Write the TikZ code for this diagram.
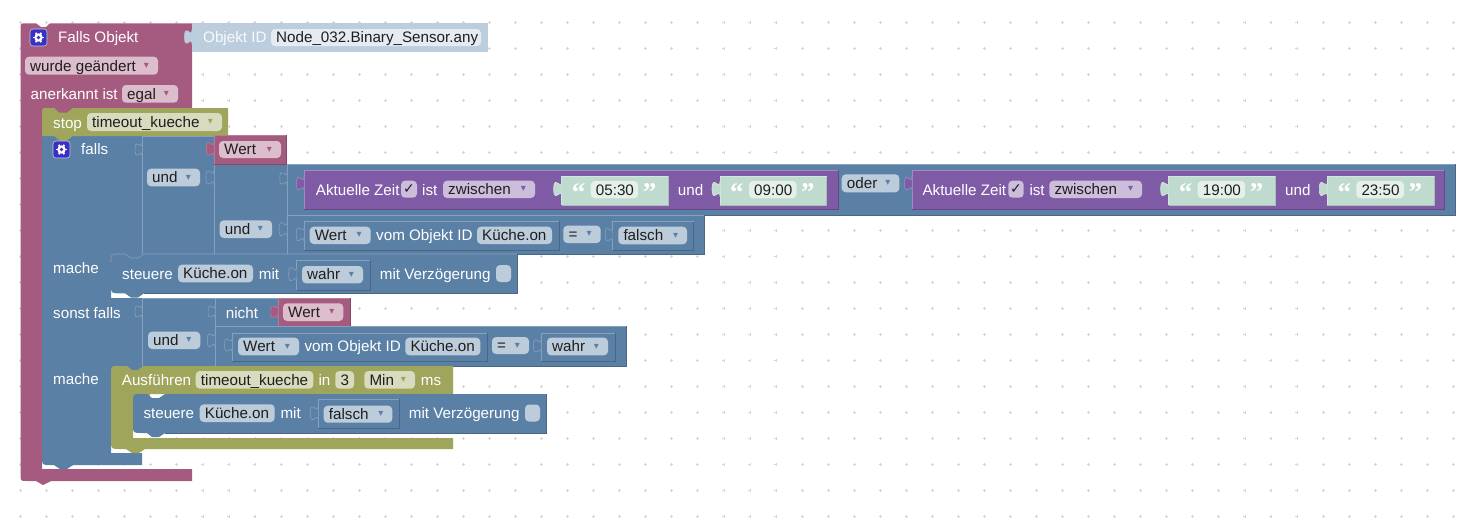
\documentclass[tikz,border=0pt]{standalone}
\usepackage{fontspec}
\setmainfont{Liberation Sans}
\newfontfamily\dejafont{DejaVu Sans}
\newfontfamily\quotefont{Liberation Serif}
\definecolor{pinkb}{HTML}{A55B80}\definecolor{pinkl}{HTML}{B77C99}\definecolor{pinkd}{HTML}{844966}\definecolor{pinkf}{HTML}{DBBDCC}
\definecolor{blueb}{HTML}{5B80A5}\definecolor{bluel}{HTML}{86A1BC}\definecolor{blued}{HTML}{496684}\definecolor{bluef}{HTML}{BDCCDB}
\definecolor{oliveb}{HTML}{9FA55B}\definecolor{olivel}{HTML}{B5B97C}\definecolor{olived}{HTML}{7F8449}\definecolor{olivef}{HTML}{D8DBBD}
\definecolor{purpb}{HTML}{805BA5}\definecolor{purpl}{HTML}{A08CC0}\definecolor{purpd}{HTML}{664984}\definecolor{purpf}{HTML}{CCBDDB}
\definecolor{tealb}{HTML}{BFDACF}\definecolor{teall}{HTML}{D3E6DE}\definecolor{tealf}{HTML}{E5F0EB}
\definecolor{palb}{HTML}{BCCDDE}\definecolor{palf}{HTML}{E4EBF2}\definecolor{gearb}{HTML}{3A30C4}\definecolor{ink}{HTML}{1E1E1E}\definecolor{dotc}{HTML}{D4D4D4}
\tikzset{
 btext/.style={anchor=base west,inner sep=0pt,text=white,font=\fontsize{15.2}{18}\selectfont},
 ftext/.style={anchor=base west,inner sep=0pt,text=ink,font=\fontsize{15.2}{18}\selectfont},
 arrowmark/.style={anchor=center,inner sep=0pt,font=\dejafont\fontsize{10}{12}\selectfont},
 quotemark/.style={anchor=base west,inner sep=0pt,text=white,font=\quotefont\bfseries\fontsize{27}{28}\selectfont},
 checkmark/.style={anchor=center,inner sep=0pt,text=ink,font=\dejafont\fontsize{14}{15}\selectfont},
 fieldbox/.style={rounded corners=4pt},
 edge/.style={line width=.6pt}
}
% x1 y1 x2 y2 fill light dark
\newcommand\blk[7]{\fill[#5] (#1,#2) rectangle (#3,#4);
 \draw[edge,#7] (#3,#2) -- (#3,#4) -- (#1,#4);
 \draw[edge,#6] (#1,#4) -- (#1,#2) -- (#3,#2);}
\newcommand\blue[4]{\blk{#1}{#2}{#3}{#4}{blueb}{bluel}{blued}}
% x ytop height fill stroke
\newcommand\tabp[5]{\path[fill=#4,draw=#5,edge,shift={(#1,#2)},scale=#3/15] (0,0) .. controls (0,10) and (-8,-8) .. (-8,7.5) .. controls (-8,23) and (0,5) .. (0,15);}
% name x1 y1 x2 y2 fill text
\newcommand\fld[7]{\fill[fieldbox,#6] (#2,#3) rectangle (#4,#5);
 \node[ftext] (#1) at ({#2+5},{(#3+#5)/2+5.3}) {#7};}
% name x1 y1 x2 y2 fill arrow text
\newcommand\dfld[8]{\fld{#1}{#2}{#3}{#4}{#5}{#6}{#8}
 \node[arrowmark,text=#7] (#1a) at ({#4-11.5},{(#3+#5)/2}) {▾};}
% name x ycentre text
\newcommand\wt[4]{\node[btext] (#1) at (#2,{#3+5.3}) {#4};}
% name x1 y1 x2 y2 fill
\newcommand\chk[6]{\fill[fieldbox,#6] (#2,#3) rectangle (#4,#5);
 \node[checkmark] (#1) at ({(#2+#4)/2},{(#3+#5)/2}) {✓};}
% x1 y1
\newcommand\gearicon[2]{\draw[rounded corners=3pt,fill=gearb,draw=bluef,line width=.6pt] (#1,#2) rectangle ({#1+17},{#2+17});
 \foreach \a in {0,60,...,300}{\draw[white,line width=1.8pt] ({#1+8.5+3*cos(\a)},{#2+8.5+3*sin(\a)}) -- ({#1+8.5+5.4*cos(\a)},{#2+8.5+5.4*sin(\a)});}
 \fill[white] ({#1+8.5},{#2+8.5}) circle (4.2);
 \fill[gearb] ({#1+8.5},{#2+8.5}) circle (1.9);}
% name x text
\newcommand\tealblk[3]{\blk{#2}{176}{#2+106.5}{205}{tealb}{teall}{tealb!70!gray}
 \tabp{#2}{181.5}{15}{tealb}{teall}
 \node[quotemark] (#1o) at ({#2+10},201.5) {“};
 \fill[fieldbox,tealf] ({#2+29},181) rectangle ({#2+76.5},198.3);
 \node[ftext] (#1) at ({#2+34},195) {#3};
 \node[quotemark] (#1c) at ({#2+81},201.5) {”};}
\begin{document}
\begin{tikzpicture}[x=1pt,y=-1pt]
\useasboundingbox (0,0) rectangle (1474,522);
\fill[white] (0,0) rectangle (1474,522);
% grid
\draw[dotc,line width=.7pt] foreach \i in {0,...,55}{ foreach \j in {0,...,19}{
 ({20.5+26.05*\i-1.5},{22+26*\j}) -- ++(3,0) ({20.5+26.05*\i},{22+26*\j-1.5}) -- ++(0,3)}};
% ---- hat block
\fill[pinkb] (20.5,29) .. controls (20.5,23.3) .. (26,23.3) -- (36,23.3) -- (41,27) -- (46,27) -- (50,23.3) -- (192,23.3) -- (192,108) -- (42,108) -- (42,469) -- (192,469) -- (192,481) -- (51,481) -- (43,485) -- (36,481) -- (27,481) .. controls (20.5,481) .. (20.5,474) -- cycle;
\fill[pinkb] (42,105) rectangle (80,114);
\blk{192}{23.3}{487}{51.5}{palb}{palb}{palb}
\tabp{192}{30}{14}{palb}{palb}
\gearicon{30}{29}
\wt{t1}{58}{37.5}{Falls Objekt}
\node[btext,text=white!90!palb] (t2) at (203,42.8) {Objekt ID};
\fld{f1}{271}{29}{481}{46}{palf}{Node\_032.Binary\_Sensor.any}
\dfld{f2}{25}{56.7}{158}{74.7}{pinkf}{pinkb}{wurde geändert}
\wt{t3}{30.5}{94}{anerkannt ist}
\dfld{f3}{122}{85}{178}{102.7}{pinkf}{pinkb}{egal}
% ---- falls block body
\fill[blueb] (42,136) -- (142,136) -- (142,254) -- (111,254) -- (111,298) -- (142,298) -- (142,366) -- (111,366) -- (111,453) -- (142,453) -- (142,465) -- (73,465) -- (67,469) -- (60,469) -- (54,465) -- (50,465) .. controls (42,465) .. (42,457) -- cycle;
\fill[blueb] (111,254) rectangle (145,260);
\fill[blueb] (111,366) rectangle (145,372);
% ---- stop
\fill[oliveb] (42,113) .. controls (42,108) .. (47,108) -- (54,108) -- (59,112.5) -- (67,112.5) -- (73,108) -- (228,108) -- (228,136) -- (73,136) -- (67,140.5) -- (60,140.5) -- (54,136) -- (42,136) -- cycle;
\wt{t4}{53}{122.7}{stop}
\dfld{f4}{87}{113}{222}{131}{olivef}{oliveb}{timeout\_kueche}
\gearicon{53}{141}
\wt{t5}{81}{149}{falls}
\wt{t6}{53}{267.7}{mache}
\wt{t7}{53}{312.7}{sonst falls}
\wt{t8}{53}{378.7}{mache}
% ---- first condition
\blue{142}{136}{214}{254}
\tabp{142}{143}{13}{blueb}{bluel}
\dfld{f5}{147}{168.7}{200}{186.3}{bluef}{blueb}{und}
\blue{214}{164}{287}{254}
\tabp{214}{170}{15}{blueb}{bluel}
\blk{214}{135}{286}{164}{pinkb}{pinkl}{pinkd}
\tabp{214}{141.7}{14.5}{pinkb}{pinkl}
\dfld{f6}{219}{141}{281}{158}{pinkf}{pinkb}{Wert}
\dfld{f7}{219.7}{220.3}{272}{238}{bluef}{blueb}{und}
\blue{287}{164}{1455}{215}
\tabp{287}{171.7}{13.5}{blueb}{bluel}
\blue{287}{215}{704}{254}
\tabp{287}{221.7}{15}{blueb}{bluel}
% purple 1
\blk{304}{170}{838}{209}{purpb}{purpl}{purpd}
\tabp{304}{176.5}{14}{purpb}{purpl}
\wt{t9}{315.7}{190}{Aktuelle Zeit}
\chk{c1}{401}{180.7}{417}{197.7}{purpf}
\wt{t10}{422}{190}{ist}
\dfld{f8}{443}{180.7}{535}{198}{purpf}{purpb}{zwischen}
\tealblk{q1}{561.7}{05:30}
\wt{t11}{677.7}{190}{und}
\tealblk{q2}{720}{09:00}
\dfld{f9}{841.7}{174.3}{899.3}{192.3}{bluef}{blueb}{oder}
% purple 2
\blk{912}{170}{1444}{209}{purpb}{purpl}{purpd}
\tabp{912}{176.5}{14}{purpb}{purpl}
\wt{t12}{922.3}{190}{Aktuelle Zeit}
\chk{c2}{1008.3}{180.7}{1023.7}{197.7}{purpf}
\wt{t13}{1029.3}{190}{ist}
\dfld{f10}{1049.3}{180.7}{1142}{198}{purpf}{purpb}{zwischen}
\tealblk{q3}{1168.7}{19:00}
\wt{t14}{1285}{190}{und}
\tealblk{q4}{1327.3}{23:50}
% second row
\blue{304}{221}{559}{250}
\tabp{304}{227}{14.5}{blueb}{bluel}
\dfld{f11}{309.7}{226.7}{370.7}{244}{bluef}{blueb}{Wert}
\wt{t15}{376}{235.5}{vom Objekt ID}
\fld{f12}{477}{226.7}{552}{244}{bluef}{Küche.on}
\dfld{f13}{563.3}{225.7}{600.7}{243}{bluef}{blueb}{=}
\blue{612.7}{221}{693.7}{250}
\tabp{612.7}{227.7}{14}{blueb}{bluel}
\dfld{f14}{618.3}{226.7}{687}{244.3}{bluef}{blueb}{falsch}
% ---- steuere 1
\fill[blueb] (111,262) .. controls (111,254) .. (119,254) -- (125,254) -- (131,258) -- (138,258) -- (144,254) -- (517,254) -- (517,293.3) -- (144,293.3) -- (138,297.5) -- (131,297.5) -- (125,293.3) -- (120,293.3) .. controls (111,293.3) .. (111,285) -- cycle;
\draw[edge,bluel] (111,262) .. controls (111,254) .. (119,254) -- (125,254) -- (131,258) -- (138,258) -- (144,254) -- (517,254);
\draw[edge,blued] (517,254) -- (517,293.3) -- (144,293.3);
\wt{t16}{122}{274}{steuere}
\fld{f15}{178}{264.7}{253}{282.3}{bluef}{Küche.on}
\wt{t17}{258.7}{274}{mit}
\blue{296.7}{260}{370}{290}
\tabp{296.7}{266.7}{15}{blueb}{bluel}
\dfld{f16}{302}{266}{363}{283.3}{bluef}{blueb}{wahr}
\wt{t18}{379.7}{274}{mit Verzögerung}
\fill[fieldbox,bluef] (496,265) rectangle (511,282);
% ---- sonst falls condition
\blue{142}{298}{215}{366}
\tabp{142}{305}{13}{blueb}{bluel}
\dfld{f17}{148}{331.7}{200.3}{349}{bluef}{blueb}{und}
\blue{215}{298}{278}{326}
\tabp{215}{305}{13}{blueb}{bluel}
\wt{t19}{225.7}{312.7}{nicht}
\blk{278}{298}{350}{326}{pinkb}{pinkl}{pinkd}
\tabp{278}{305}{13.5}{pinkb}{pinkl}
\dfld{f18}{283}{303.3}{343.3}{321}{pinkf}{pinkb}{Wert}
\blue{215}{326}{626}{366}
\tabp{215}{333}{14.5}{blueb}{bluel}
\blue{232}{333}{487}{361}
\tabp{232}{338}{14}{blueb}{bluel}
\dfld{f19}{238}{337.7}{299}{355.3}{bluef}{blueb}{Wert}
\wt{t20}{304.3}{346.5}{vom Objekt ID}
\fld{f20}{405.3}{337.7}{480.3}{355.3}{bluef}{Küche.on}
\dfld{f21}{492}{337}{529}{354}{bluef}{blueb}{=}
\blue{541}{333}{615}{361}
\tabp{541}{339}{14}{blueb}{bluel}
\dfld{f22}{547}{337.7}{608}{355.3}{bluef}{blueb}{wahr}
% ---- Ausfuehren
\fill[oliveb] (111,374) .. controls (111,366) .. (119,366) -- (127,366) -- (132,370) -- (138,370) -- (143,366) -- (453,366) -- (453,394) -- (133,394) -- (133,438) -- (453,438) -- (453,449) -- (145,449) -- (139,453) -- (132,453) -- (126,449) -- (120,449) .. controls (111,449) .. (111,441) -- cycle;
\fill[oliveb] (133,394) rectangle (150,402);
\wt{t21}{121.7}{380}{Ausführen}
\fld{f23}{195.7}{371}{313.3}{388.7}{olivef}{timeout\_kueche}
\wt{t22}{318.3}{380}{in}
\fld{f24}{335.3}{371}{354}{388.7}{olivef}{3}
\dfld{f25}{364.3}{371}{415}{388.7}{olivef}{oliveb}{Min}
\wt{t23}{420.7}{380}{ms}
% ---- steuere 2
\fill[blueb] (133,402) .. controls (133,394) .. (141,394) -- (147,394) -- (152,398) -- (159,398) -- (165,394) -- (546,394) -- (546,433) -- (165,433) -- (159,437) -- (152,437) -- (147,433) -- (142,433) .. controls (133,433) .. (133,425) -- cycle;
\draw[edge,blued] (546,394) -- (546,433) -- (165,433);
\wt{t24}{143.3}{413.3}{steuere}
\fld{f26}{199.7}{404.3}{274.7}{422}{bluef}{Küche.on}
\wt{t25}{280.3}{413.3}{mit}
\blue{318}{399.3}{399.3}{428.3}
\tabp{318}{406}{14.5}{blueb}{bluel}
\dfld{f27}{323.7}{405.7}{392.3}{422.7}{bluef}{blueb}{falsch}
\wt{t26}{408.7}{413.3}{mit Verzögerung}
\fill[fieldbox,bluef] (525,404.5) rectangle (540,421.5);
\end{tikzpicture}
\end{document}
